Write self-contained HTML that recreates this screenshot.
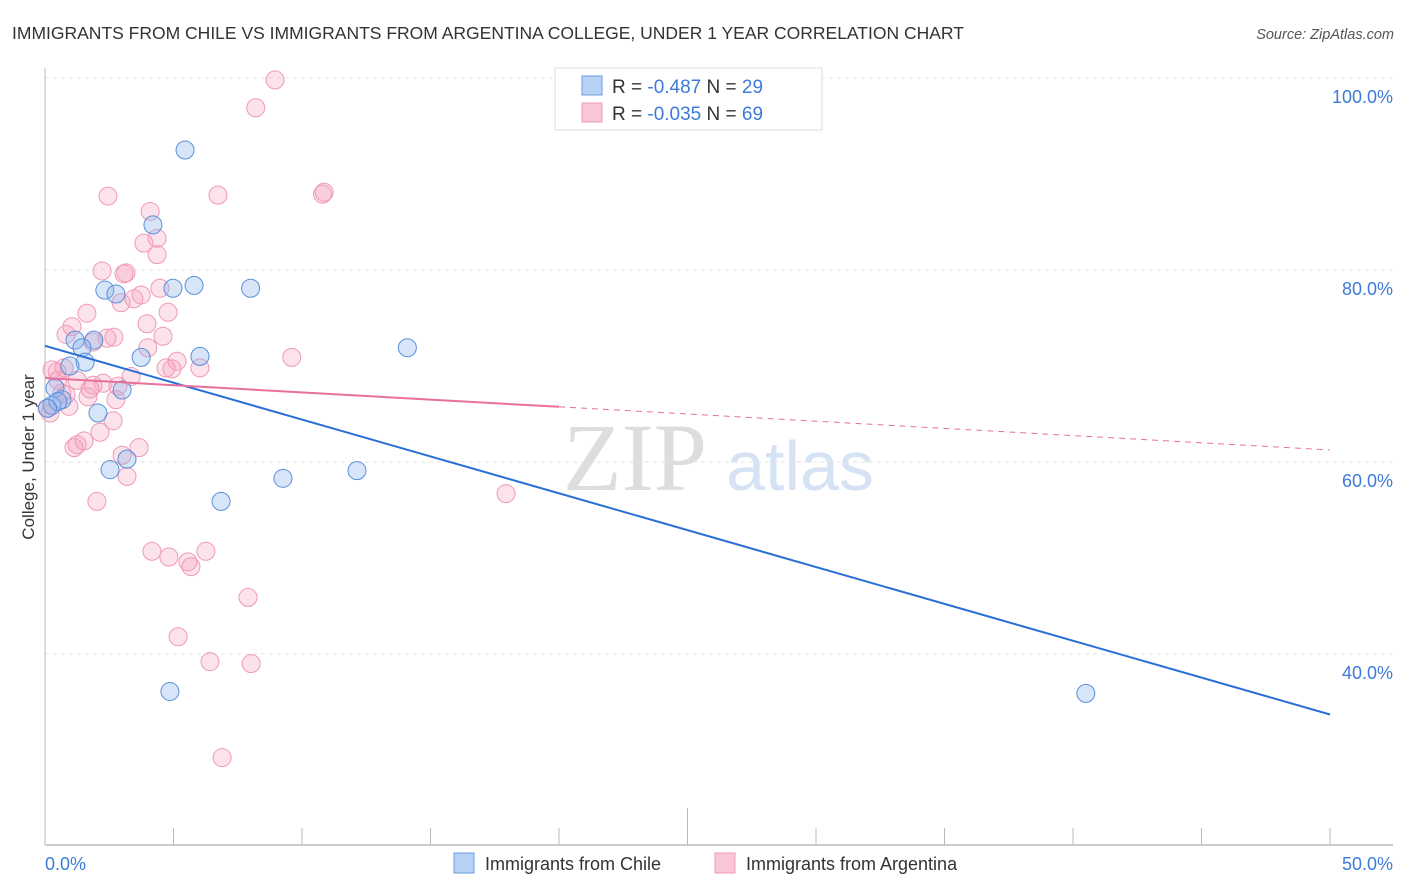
<!DOCTYPE html>
<html><head><meta charset="utf-8"><style>
body{margin:0;background:#fff;font-family:"Liberation Sans",sans-serif;}
svg{display:block}
</style></head><body>
<svg id="chart" width="1406" height="892">
<text x="12" y="39" font-size="17.5" fill="#333">IMMIGRANTS FROM CHILE VS IMMIGRANTS FROM ARGENTINA COLLEGE, UNDER 1 YEAR CORRELATION CHART</text>
<text x="1394" y="39" font-size="14.5" fill="#555" font-style="italic" text-anchor="end">Source: ZipAtlas.com</text>
<text x="635" y="490" font-size="96" fill="#ddd" text-anchor="middle" font-family="Liberation Serif,serif">ZIP</text>
<text x="800" y="490" font-size="70" fill="#d5e3f5" text-anchor="middle">atlas</text>
<g id="grid"></g><g id="axes"></g><g id="pts"></g><g id="lines"></g>
<text transform="translate(34,457) rotate(-90)" font-size="17" fill="#333" text-anchor="middle">College, Under 1 year</text>
<g>
<rect x="555" y="68" width="267" height="62" fill="#fff" stroke="#ddd"/>
<rect x="582" y="76" width="20" height="19" fill="#b7d2f5" stroke="#6a9be0"/>
<rect x="582" y="103" width="20" height="19" fill="#f9c6d5" stroke="#ee9ab5"/>
<text x="612" y="93" font-size="19" fill="#333">R = <tspan fill="#3d7bd9">-0.487</tspan>   N = <tspan fill="#3d7bd9">29</tspan></text>
<text x="612" y="120" font-size="19" fill="#333">R = <tspan fill="#3d7bd9">-0.035</tspan>   N = <tspan fill="#3d7bd9">69</tspan></text>
</g>
<g>
<rect x="454" y="853" width="20" height="20" fill="#b7d2f5" stroke="#6a9be0"/>
<text x="485" y="870" font-size="18" fill="#333">Immigrants from Chile</text>
<rect x="715" y="853" width="20" height="20" fill="#f9c6d5" stroke="#ee9ab5"/>
<text x="746" y="870" font-size="18" fill="#333">Immigrants from Argentina</text>
</g>
</svg>
<script>
const xTicks=[0,5,10,15,20,25,30,35,40,45,50];
const yTicks=[40,60,80,100];
const yTickLabels=["40.0%","60.0%","80.0%","100.0%"];
const xTickLabels=["0.0%","50.0%"];
const chileX=[5.45,4.2,2.33,2.76,4.98,5.8,8.0,14.1,1.9,1.17,1.44,1.56,0.97,3.74,6.03,3.0,0.39,0.66,0.27,0.5,2.06,2.53,3.19,6.85,9.26,12.14,4.86,40.5,0.1];
const chileY=[92.5,84.7,77.9,77.5,78.1,78.4,78.1,71.9,72.7,72.7,71.9,70.4,70.0,70.9,71.0,67.5,67.7,66.5,65.9,66.3,65.1,59.2,60.3,55.9,58.3,59.1,36.1,35.9,65.6];
const argX=[8.95,8.2,10.86,10.8,2.45,6.73,4.09,4.36,3.85,4.36,2.22,3.15,3.07,3.74,3.46,2.96,1.63,4.79,3.97,1.05,0.82,2.68,2.41,4.59,1.87,4.0,9.6,5.14,6.03,4.71,4.94,0.74,0.27,0.47,1.25,3.35,0.5,2.26,1.87,2.84,1.75,0.82,1.67,2.76,0.93,0.08,0.2,2.65,2.14,1.52,1.25,1.13,3.66,3.0,3.19,2.02,17.94,4.16,4.82,6.26,5.56,5.68,7.9,5.18,6.42,8.02,6.89,0.66,4.47];
const argY=[99.8,96.9,88.1,87.9,87.7,87.8,86.1,83.3,82.8,81.6,79.9,79.7,79.6,77.4,77.0,76.6,75.5,75.6,74.4,74.1,73.3,73.0,72.9,73.1,72.5,71.9,70.9,70.5,69.8,69.8,69.7,69.8,69.6,69.4,68.5,68.9,68.5,68.2,68.0,67.9,67.6,67.0,66.8,66.5,65.8,65.6,65.1,64.3,63.1,62.2,61.8,61.5,61.5,60.7,58.5,55.9,56.7,50.7,50.1,50.7,49.6,49.1,45.9,41.8,39.2,39.0,29.2,67.2,78.1];
const chileTrend=[72.1,33.7];
const argTrend=[68.75,61.25];
const argSolidEnd=20;
const X=v=>45+v*25.7, Y=v=>1038-v*9.6;
const NS="http://www.w3.org/2000/svg";
function mk(tag,attrs,parent){const e=document.createElementNS(NS,tag);for(const k in attrs)e.setAttribute(k,attrs[k]);document.getElementById(parent).appendChild(e);return e;}
yTicks.forEach((t,i)=>{
 const g=mk('line',{x1:45,x2:1393,y1:Y(t),y2:Y(t),stroke:'#e3e3e3','stroke-dasharray':'4,4'},'grid');
 
 
 const l=mk('text',{x:1393,y:Y(t)+25,'font-size':18,fill:'#3d7bd9','text-anchor':'end'},'axes');
 l.textContent=yTickLabels[i];
 
 
});
const ax=mk('line',{x1:45,x2:1393,y1:845,y2:845,stroke:'#bbb','stroke-width':1.5},'axes');


const ay=mk('line',{x1:45,x2:45,y1:68,y2:845,stroke:'#bbb','stroke-width':1},'axes');


xTicks.forEach(t=>{
 const k=mk('line',{x1:X(t),x2:X(t),y1:t==25?808:828,y2:845,stroke:'#bbb'},'axes');
 
 
});
const xl0=mk('text',{x:45,y:870,'font-size':18,fill:'#3d7bd9'},'axes');xl0.textContent=xTickLabels[0];


const xl1=mk('text',{x:1393,y:870,'font-size':18,fill:'#3d7bd9','text-anchor':'end'},'axes');xl1.textContent=xTickLabels[1];


argX.forEach((v,i)=>{
 const c=mk('circle',{cx:X(v),cy:Y(argY[i]),r:9,fill:'rgba(244,160,190,0.3)',stroke:'#ef9ab6','stroke-width':1},'pts');
 
 
});
chileX.forEach((v,i)=>{
 const c=mk('circle',{cx:X(v),cy:Y(chileY[i]),r:9,fill:'rgba(140,180,235,0.35)',stroke:'#5b90dc','stroke-width':1},'pts');
 
 
});
const bt=mk('line',{x1:X(0),y1:Y(chileTrend[0]),x2:X(50),y2:Y(chileTrend[1]),stroke:'#2a6fd6','stroke-width':2},'lines');


const am=argTrend[0]+(argTrend[1]-argTrend[0])*argSolidEnd/50;
const pt=mk('line',{x1:X(0),y1:Y(argTrend[0]),x2:X(argSolidEnd),y2:Y(am),stroke:'#e8709a','stroke-width':2},'lines');


const pd=mk('line',{x1:X(argSolidEnd),y1:Y(am),x2:X(50),y2:Y(argTrend[1]),stroke:'#e8709a','stroke-width':1,'stroke-dasharray':'6,5'},'lines');


</script>
</body></html>
